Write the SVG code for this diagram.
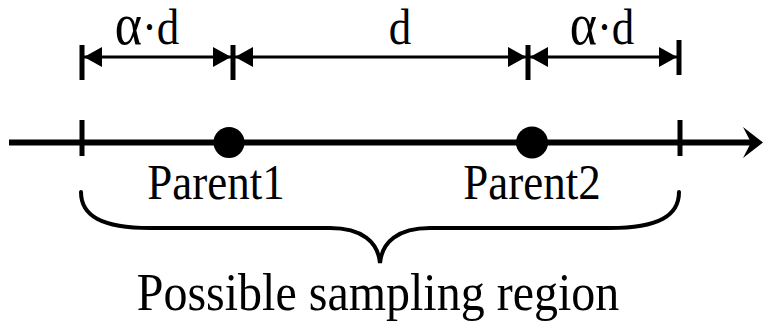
<svg xmlns="http://www.w3.org/2000/svg" width="763" height="330" viewBox="0 0 763 330">
  <style>
    .lbl { font-family: "Liberation Serif", "Times New Roman", serif; fill: #000; text-anchor: middle; }
    .dim { stroke: #000; stroke-width: 3; fill: none; }
    .tick { stroke: #000; stroke-width: 5; fill: none; }
    .axis { stroke: #000; stroke-width: 6; fill: none; }
    .brace { stroke: #000; stroke-width: 4; fill: none; stroke-linecap: round; }
  </style>
  <defs>
    <marker id="dimHead" viewBox="0 0 18 20" refX="18" refY="10" markerWidth="18" markerHeight="20" markerUnits="userSpaceOnUse" orient="auto-start-reverse">
      <path d="M0,0 L18,10 L0,20 Z" fill="#000"/>
    </marker>
  </defs>

  <rect width="763" height="330" fill="#fff"/>

  <g id="connectors">
    <!-- number line with barbed arrowhead -->
    <line class="axis" x1="9" y1="142.5" x2="754" y2="142.5"/>
    <polygon points="743,127 763,142.5 743,158 751,142.5" fill="#000"/>
    <!-- boundary ticks on the line -->
    <line class="tick" x1="82" y1="120" x2="82" y2="156"/>
    <line class="tick" x1="680" y1="120" x2="680" y2="156"/>

    <!-- dimension ticks -->
    <line class="tick" x1="82" y1="45" x2="82" y2="80"/>
    <line class="tick" x1="233" y1="45" x2="233" y2="80"/>
    <line class="tick" x1="528" y1="45" x2="528" y2="80"/>
    <line class="tick" x1="679" y1="40" x2="679" y2="75"/>

    <!-- dimension arrows -->
    <line class="dim" x1="84" y1="57" x2="231" y2="57" marker-start="url(#dimHead)" marker-end="url(#dimHead)"/>
    <line class="dim" x1="235" y1="57" x2="526" y2="57" marker-start="url(#dimHead)" marker-end="url(#dimHead)"/>
    <line class="dim" x1="530" y1="57" x2="677" y2="57" marker-start="url(#dimHead)" marker-end="url(#dimHead)"/>

    <!-- curly brace under the region -->
    <path class="brace" d="M81,192 C81,216 102,228 150,228 L330,228 C362,228 378,242 380,263 C382,242 398,228 430,228 L610,228 C658,228 679,216 679,192"/>
  </g>

  <g id="label-alpha-left">
    <text class="lbl" transform="translate(147,44) scale(1,1.12)" font-size="45"><tspan font-size="52">α</tspan>·d</text>
  </g>
  <g id="label-d">
    <text class="lbl" transform="translate(400,44) scale(1,1.12)" font-size="45">d</text>
  </g>
  <g id="label-alpha-right">
    <text class="lbl" transform="translate(602,44) scale(1,1.12)" font-size="45"><tspan font-size="52">α</tspan>·d</text>
  </g>

  <g id="parent1">
    <circle cx="229" cy="142.5" r="15.5" fill="#000"/>
    <text class="lbl" transform="translate(216,199) scale(1,1.12)" font-size="45">Parent1</text>
  </g>
  <g id="parent2">
    <circle cx="532" cy="142.5" r="16" fill="#000"/>
    <text class="lbl" transform="translate(532,199) scale(1,1.12)" font-size="45">Parent2</text>
  </g>

  <g id="region-label">
    <text class="lbl" transform="translate(378,310) scale(1,1.12)" font-size="48">Possible sampling region</text>
  </g>
</svg>
